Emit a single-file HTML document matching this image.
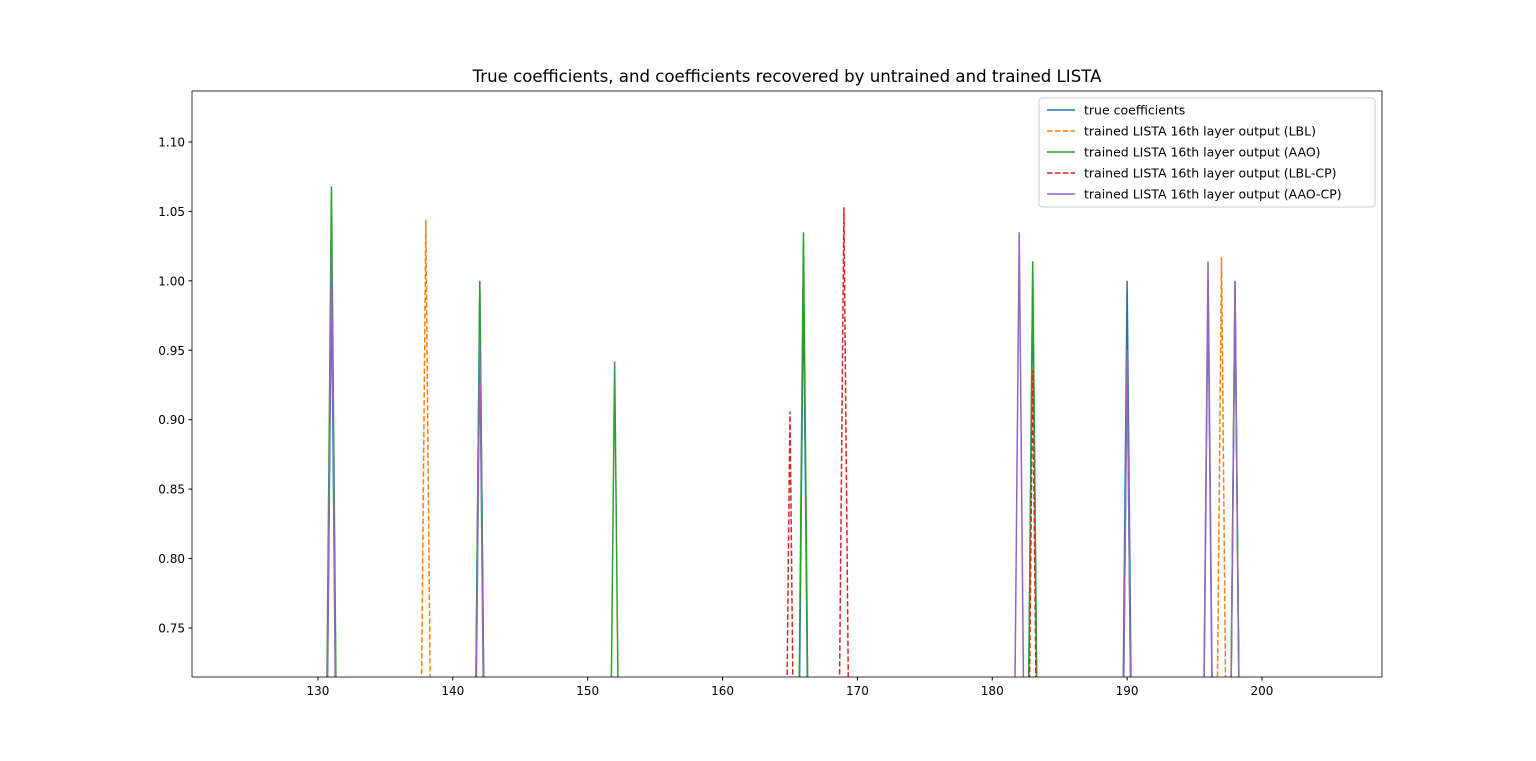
<!DOCTYPE html>
<html><head><meta charset="utf-8"><style>
html,body{margin:0;padding:0;background:#fff;overflow:hidden;font-family:"Liberation Sans","DejaVu Sans",sans-serif}
svg{display:block}
svg text{font-family:"DejaVu Sans","Liberation Sans",sans-serif}
</style></head><body>
<svg id="chart" width="1536" height="761" xmlns="http://www.w3.org/2000/svg"></svg>
<script>
const seriesNames=["true coefficients","trained LISTA 16th layer output (LBL)","trained LISTA 16th layer output (AAO)","trained LISTA 16th layer output (LBL-CP)","trained LISTA 16th layer output (AAO-CP)"];
const seriesColors=["#1f77b4","#ff7f0e","#2ca02c","#d62728","#9467bd"];
const seriesDash=[false,true,false,true,false];
const trueIdx=[131,142,166,183,190,196,198];
const trueVal=[1.0,1.0,1.0,1.0,1.0,1.0,1.0];
const lblIdx=[138,197];
const lblVal=[1.044,1.017];
const aaoIdx=[131,142,152,166,183,190,198];
const aaoVal=[1.068,0.995,0.942,1.035,1.014,0.95,0.99];
const lblcpIdx=[165,169,183];
const lblcpVal=[0.906,1.053,0.936];
const aaocpIdx=[131,142,182,190,196,198];
const aaocpVal=[1.018,0.953,1.035,0.95,1.014,1.0];
const xTicks=[130,140,150,160,170,180,190,200];
const yTicks=[0.75,0.80,0.85,0.90,0.95,1.00,1.05,1.10];
const L=192,R=1382,T=91,B=677;
const xmin=120.66,xmax=208.9,ymin=0.7147,ymax=1.1367;
const X=v=>L+(v-xmin)/(xmax-xmin)*(R-L);
const Y=v=>B-(v-ymin)/(ymax-ymin)*(B-T);
const svg=document.getElementById('chart');
const NS="http://www.w3.org/2000/svg";
function mk(t,a,p){const e=document.createElementNS(NS,t);for(const k in a)e.setAttribute(k,a[k]);(p||svg).appendChild(e);return e;}
const defs=mk('defs',{});const cp=mk('clipPath',{id:'clip'},defs);mk('rect',{x:L,y:T,width:R-L,height:B-T},cp);
const title=mk('text',{x:787,y:82,'text-anchor':'middle','font-size':16.6});title.textContent="True coefficients, and coefficients recovered by untrained and trained LISTA";


const g=mk('g',{'clip-path':'url(#clip)'});


const all=[[trueIdx,trueVal],[lblIdx,lblVal],[aaoIdx,aaoVal],[lblcpIdx,lblcpVal],[aaocpIdx,aaocpVal]];
all.forEach(([idx,val],s)=>{
  const pts=[];
  for(let k=120;k<=209;k++){const j=idx.indexOf(k);pts.push(X(k)+','+Y(j>=0?val[j]:0));}
  const a={points:pts.join(' '),fill:'none',stroke:seriesColors[s],'stroke-width':1.5};
  if(seriesDash[s])a['stroke-dasharray']='5.5,2.4';
  const pl=mk('polyline',a,g);
  
  
});
mk('rect',{x:L,y:T,width:R-L,height:B-T,fill:'none',stroke:'#000','stroke-width':0.8});
xTicks.forEach(v=>{mk('line',{x1:X(v),x2:X(v),y1:B,y2:B+3.5,stroke:'#000'});
  const t=mk('text',{x:X(v),y:B+18,'text-anchor':'middle','font-size':12});t.textContent=v;
  
  });
yTicks.forEach(v=>{mk('line',{x1:L-3.5,x2:L,y1:Y(v),y2:Y(v),stroke:'#000'});
  const t=mk('text',{x:L-7,y:Y(v)+4.5,'text-anchor':'end','font-size':12});t.textContent=v.toFixed(2);
  
  });
const lg=mk('g',{});


mk('rect',{x:1039,y:98,width:336,height:109,rx:3,fill:'#fff','fill-opacity':0.8,stroke:'#ccc'},lg);
seriesNames.forEach((n,i)=>{const y=110+i*21;
  const a={x1:1047,x2:1075,y1:y,y2:y,stroke:seriesColors[i],'stroke-width':1.5};
  if(seriesDash[i])a['stroke-dasharray']='5.5,2.4';
  mk('line',a,lg);
  const t=mk('text',{x:1084,y:y+4.5,'font-size':12.5},lg);t.textContent=n;
  
  });
</script>
</body></html>
